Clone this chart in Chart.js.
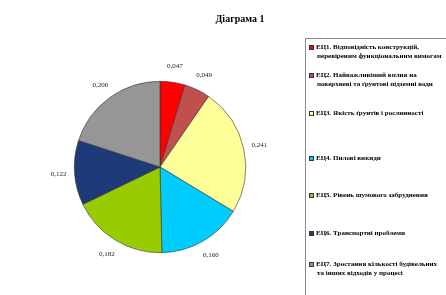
<!DOCTYPE html>
<html>
<head>
<meta charset="utf-8">
<script src="https://cdn.jsdelivr.net/npm/chart.js@4"></script>
<style>
  body { margin: 0; background: #fff; }
  #wrap { position: relative; width: 446px; height: 295px; overflow: hidden; }
  #pie { position: absolute; left: 0; top: 0; }
  #title { position: absolute; left: 190px; top: 13px; width: 100px; text-align: center;
           font: bold 10px "Liberation Serif", serif; color: #000; }
  #legend { position: absolute; left: 305px; top: 38px; width: 160px; height: 270px;
            border: 1px solid #888; box-sizing: border-box; }
  .item { position: absolute; left: 3px; width: 128px; font: bold 7px/9px "Liberation Serif", serif;
          color: #000; padding-left: 8px; text-indent: -8px; }
  .sw { display: inline-block; width: 5px; height: 5px; border: 1px solid #333; margin-right: 2px;
        vertical-align: -1px; box-sizing: border-box; }
</style>
</head>
<body>
<div id="wrap">
  <canvas id="pie" width="446" height="295"></canvas>
  <div id="title">Діаграма 1</div>
  <div id="legend"></div>
</div>
<script>
const labels = [
  'ЕЦ1. Відповідність конструкцій, перевіреним функціональним вимогам',
  'ЕЦ2. Найважливіший вплив на поверхневі та ґрунтові підземні води',
  'ЕЦ3. Якість ґрунтів і рослинності',
  'ЕЦ4. Пилові викиди',
  'ЕЦ5. Рівень шумового забруднення',
  'ЕЦ6. Транспортні проблеми',
  'ЕЦ7. Зростання кількості будівельних та інших відходів у процесі'
];
const values = [0.047, 0.049, 0.241, 0.160, 0.182, 0.122, 0.200];
const valueLabels = ['0,047', '0,049', '0,241', '0,160', '0,182', '0,122', '0,200'];
const colors = ['#ff0000', '#c0504d', '#ffff99', '#00ccff', '#99cc00', '#1f3a78', '#969696'];
const legendTops = [4, 32, 70, 115, 152, 190, 221];

const legend = document.getElementById('legend');
labels.forEach((t, i) => {
  const d = document.createElement('div');
  d.className = 'item';
  d.style.top = legendTops[i] + 'px';
  d.innerHTML = `<span class="sw" style="background:${colors[i]}"></span>${t}`;
  legend.appendChild(d);
});

const outsideLabels = {
  id: 'outsideLabels',
  afterDatasetsDraw(chart) {
    const c = chart.ctx;
    const meta = chart.getDatasetMeta(0);
    c.save();
    c.font = '7px "Liberation Serif", serif';
    c.fillStyle = '#222';
    c.textAlign = 'center';
    c.textBaseline = 'middle';
    meta.data.forEach((arc, i) => {
      const a = (arc.startAngle + arc.endAngle) / 2;
      const r = arc.outerRadius + 16;
      c.fillText(valueLabels[i], arc.x + Math.cos(a) * r, arc.y + Math.sin(a) * r);
    });
    c.restore();
  }
};

new Chart(document.getElementById('pie'), {
  type: 'pie',
  data: {
    labels: labels,
    datasets: [{
      data: values,
      backgroundColor: colors,
      borderColor: '#333',
      borderWidth: 0.6
    }]
  },
  options: {
    responsive: false,
    animation: false,
    layout: { padding: { left: 74, right: 200, top: 81, bottom: 42 } },
    plugins: { legend: { display: false }, tooltip: { enabled: false } }
  },
  plugins: [outsideLabels]
});
</script>
</body>
</html>
